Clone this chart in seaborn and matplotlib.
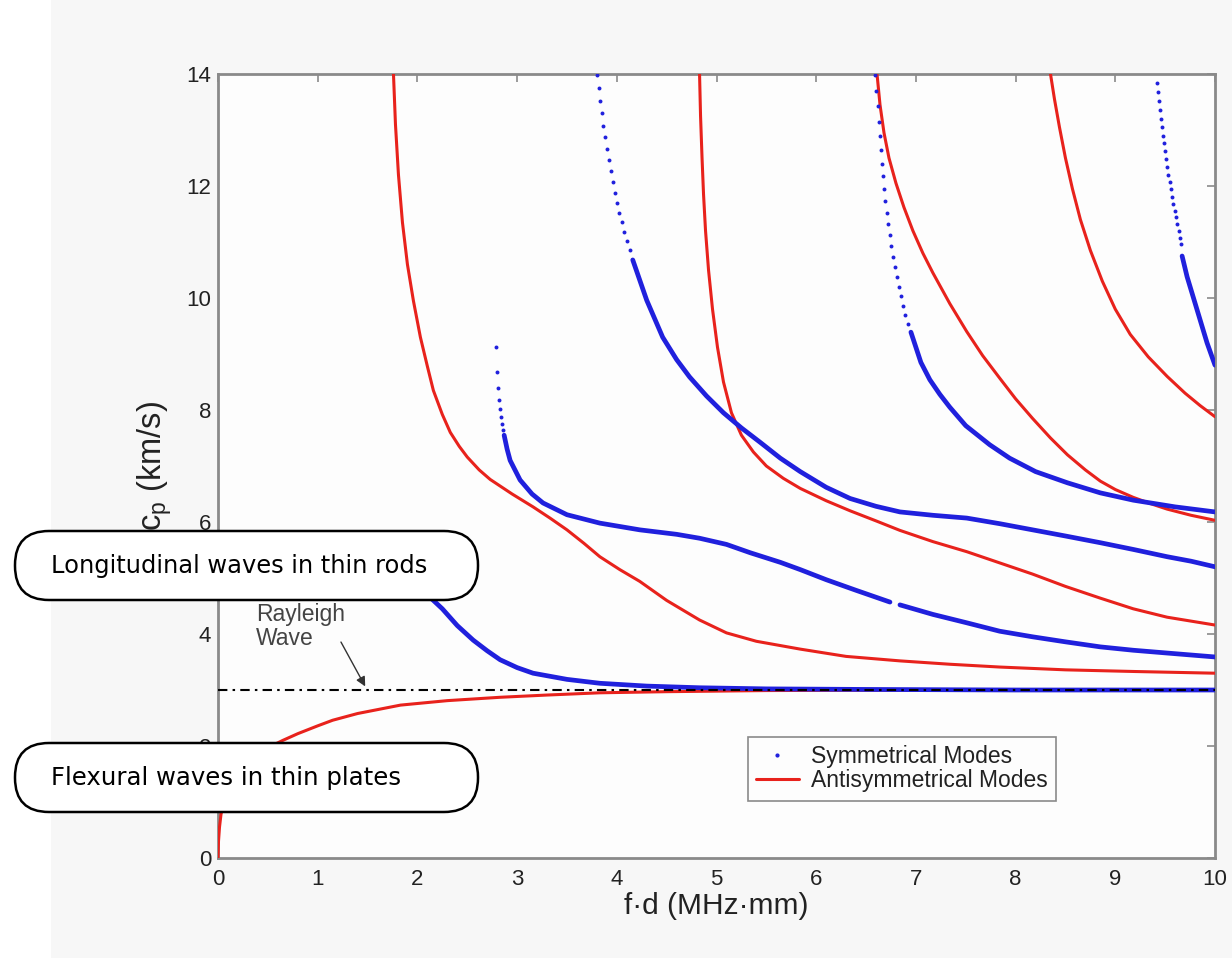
import numpy as np
import pandas as pd
import matplotlib
matplotlib.use("Agg")
import matplotlib.pyplot as plt
import seaborn as sns
from matplotlib.patches import FancyBboxPatch, Rectangle
from matplotlib.lines import Line2D
from matplotlib.transforms import IdentityTransform

# ---------------- data ----------------
# Antisymmetric modes (solid red lines)
a0_x = [0.0, 0.005, 0.015, 0.03, 0.06, 0.1, 0.2, 0.35, 0.5, 0.65, 0.8, 1.0, 1.15, 1.4, 1.83,
        2.3, 2.83, 3.3, 3.83, 4.5, 5.5, 7.0, 10.0]
a0_y = [0.0, 0.3, 0.55, 0.78, 1.0, 1.2, 1.5, 1.78, 1.97, 2.1, 2.22, 2.36, 2.46, 2.58, 2.73,
        2.81, 2.87, 2.91, 2.95, 2.97, 2.99, 3.0, 3.0]

a1_x = [1.76, 1.78, 1.81, 1.85, 1.9, 1.96, 2.03, 2.1, 2.16, 2.25, 2.33, 2.42, 2.5, 2.62, 2.73,
        2.95, 3.16, 3.33, 3.5, 3.67, 3.83, 4.03, 4.23, 4.5, 4.83, 5.1, 5.4, 5.84, 6.3, 6.84,
        7.34, 7.84, 8.5, 9.2, 10.0]
a1_y = [14.0, 13.1, 12.2, 11.35, 10.6, 9.95, 9.3, 8.78, 8.35, 7.92, 7.6, 7.35, 7.16, 6.93, 6.76,
        6.5, 6.27, 6.07, 5.86, 5.62, 5.38, 5.15, 4.94, 4.6, 4.25, 4.02, 3.87, 3.73, 3.6, 3.52,
        3.46, 3.41, 3.36, 3.33, 3.3]

a2_x = [4.83, 4.84, 4.855, 4.87, 4.89, 4.92, 4.96, 5.01, 5.07, 5.15, 5.25, 5.37, 5.5, 5.67,
        5.84, 6.1, 6.34, 6.6, 6.84, 7.17, 7.51, 7.84, 8.17, 8.5, 8.85, 9.18, 9.52, 10.0]
a2_y = [14.0, 13.25, 12.5, 11.85, 11.2, 10.5, 9.8, 9.12, 8.5, 7.95, 7.55, 7.25, 7.0, 6.78,
        6.6, 6.38, 6.2, 6.02, 5.85, 5.65, 5.47, 5.27, 5.07, 4.85, 4.64, 4.45, 4.3, 4.16]

a3_x = [6.61, 6.64, 6.68, 6.73, 6.8, 6.88, 6.97, 7.07, 7.17, 7.34, 7.51, 7.67, 7.84, 8.0, 8.17,
        8.35, 8.52, 8.7, 8.85, 9.0, 9.18, 9.35, 9.52, 9.76, 10.0]
a3_y = [14.0, 13.45, 12.95, 12.5, 12.05, 11.62, 11.2, 10.8, 10.45, 9.9, 9.4, 8.97, 8.57, 8.2,
        7.85, 7.5, 7.2, 6.93, 6.73, 6.58, 6.44, 6.33, 6.23, 6.12, 6.03]

a4_x = [8.35, 8.39, 8.44, 8.5, 8.57, 8.65, 8.75, 8.87, 9.0, 9.15, 9.33, 9.52, 9.7, 9.85, 10.0]
a4_y = [14.0, 13.55, 13.05, 12.5, 11.95, 11.4, 10.85, 10.3, 9.8, 9.35, 8.95, 8.6, 8.3, 8.08, 7.88]

# Symmetric modes (blue dots) - dense parts
s0_x = [0.0, 0.5, 1.0, 1.4, 1.7, 1.9, 2.1, 2.25, 2.4, 2.56, 2.7, 2.83, 3.0, 3.16, 3.5, 3.83,
        4.3, 4.83, 5.5, 6.5, 8.0, 10.0]
s0_y = [5.45, 5.43, 5.38, 5.25, 5.08, 4.92, 4.7, 4.45, 4.15, 3.89, 3.7, 3.54, 3.4, 3.3, 3.19, 3.12,
        3.07, 3.04, 3.02, 3.01, 3.0, 3.0]

s1a_x = [2.87, 2.9, 2.93, 3.03, 3.15, 3.26, 3.5, 3.83, 4.23, 4.6, 4.83, 5.1, 5.34, 5.64, 5.84,
         6.1, 6.4, 6.74]
s1a_y = [7.55, 7.3, 7.1, 6.75, 6.5, 6.34, 6.13, 5.98, 5.86, 5.78, 5.71, 5.6, 5.45, 5.28, 5.15,
         4.97, 4.78, 4.57]
s1b_x = [6.84, 7.17, 7.51, 7.84, 8.17, 8.5, 8.85, 9.18, 9.52, 10.0]
s1b_y = [4.52, 4.35, 4.2, 4.05, 3.95, 3.86, 3.77, 3.71, 3.66, 3.59]

s2_x = [4.16, 4.3, 4.46, 4.6, 4.73, 4.9, 5.07, 5.25, 5.44, 5.64, 5.84, 6.1, 6.34, 6.6, 6.84,
        7.17, 7.51, 7.84, 8.17, 8.5, 8.85, 9.18, 9.52, 9.76, 10.0]
s2_y = [10.68, 9.96, 9.3, 8.9, 8.59, 8.25, 7.95, 7.68, 7.42, 7.14, 6.9, 6.62, 6.42, 6.28, 6.18,
        6.12, 6.07, 5.97, 5.86, 5.75, 5.63, 5.51, 5.38, 5.3, 5.2]

s3_x = [6.95, 7.05, 7.14, 7.24, 7.34, 7.5, 7.74, 7.94, 8.2, 8.52, 8.85, 9.18, 9.6, 10.0]
s3_y = [9.39, 8.85, 8.54, 8.28, 8.05, 7.72, 7.38, 7.14, 6.9, 6.7, 6.52, 6.39, 6.27, 6.18]

s4_x = [9.67, 9.72, 9.82, 9.92, 10.0]
s4_y = [10.75, 10.38, 9.79, 9.2, 8.8]

# Symmetric modes - isolated dots near the cut-offs
s1_dot_x = [2.79, 2.80, 2.81, 2.82, 2.83, 2.84, 2.85, 2.86]
s1_dot_y = [9.12, 8.67, 8.39, 8.18, 8.01, 7.87, 7.75, 7.64]

s2_dot_x = [3.80, 3.82, 3.835, 3.85, 3.865, 3.88, 3.90, 3.92, 3.94, 3.96, 3.98, 4.0, 4.025,
            4.05, 4.07, 4.10, 4.13]
s2_dot_y = [13.98, 13.75, 13.52, 13.3, 13.08, 12.87, 12.66, 12.46, 12.26, 12.07, 11.88, 11.7,
            11.52, 11.35, 11.18, 11.02, 10.86]

s3_dot_x = [6.59, 6.60, 6.615, 6.625, 6.635, 6.645, 6.655, 6.665, 6.68, 6.695, 6.71, 6.725,
            6.74, 6.755, 6.77, 6.79, 6.81, 6.83, 6.85, 6.87, 6.89, 6.92]
s3_dot_y = [13.98, 13.7, 13.42, 13.15, 12.9, 12.65, 12.4, 12.17, 11.95, 11.73, 11.52, 11.32,
            11.12, 10.93, 10.74, 10.56, 10.38, 10.2, 10.03, 9.86, 9.7, 9.54]

s4_dot_x = [9.42, 9.43, 9.44, 9.45, 9.46, 9.47, 9.48, 9.49, 9.50, 9.51, 9.52, 9.53, 9.545, 9.56,
            9.57, 9.58, 9.595, 9.61, 9.62, 9.635, 9.65, 9.66]
s4_dot_y = [13.84, 13.68, 13.52, 13.36, 13.2, 13.05, 12.9, 12.76, 12.62, 12.48, 12.34, 12.2,
            12.07, 11.94, 11.81, 11.68, 11.56, 11.44, 11.32, 11.2, 11.08, 10.97]

rayleigh_x = [0.0, 10.0]
rayleigh_y = [3.0, 3.0]

x_ticks = [0, 1, 2, 3, 4, 5, 6, 7, 8, 9, 10]
y_ticks = [0, 2, 4, 6, 8, 10, 12, 14]

legend_labels = ["Symmetrical Modes", "Antisymmetrical Modes"]
box_labels = ["Longitudinal waves in thin rods", "Flexural waves in thin plates"]

# ---------------- styling ----------------
sns.set_theme(style="white")
plt.rcParams["font.family"] = ["Liberation Sans", "DejaVu Sans"]
plt.rcParams["mathtext.fontset"] = "custom"
plt.rcParams["mathtext.rm"] = "Liberation Sans"
plt.rcParams["mathtext.it"] = "Liberation Sans"
plt.rcParams["lines.solid_joinstyle"] = "round"

BLUE = "#2020dd"
RED = "#e8221c"
GRAY = "#8a8a8a"

W, H = 1232, 958
fig = plt.figure(figsize=(W / 100, H / 100), dpi=100, facecolor="white")
fig.add_artist(Rectangle((51 / W, 0), 1 - 51 / W, 1, transform=fig.transFigure,
                         facecolor="#f7f7f7", edgecolor="none", zorder=-10))

ax = fig.add_axes([218 / W, 100 / H, 997 / W, 784 / H])
ax.set_facecolor("#fdfdfd")

def red_line(x, y):
    sns.lineplot(x=x, y=y, ax=ax, color=RED, lw=2.2, sort=False, estimator=None,
                 legend=False, zorder=3)

def blue_line(x, y):
    sns.lineplot(x=x, y=y, ax=ax, color=BLUE, lw=3.4, sort=False, estimator=None,
                 legend=False, zorder=4)

def blue_dots(x, y):
    sns.scatterplot(x=x, y=y, ax=ax, color=BLUE, s=8, linewidth=0, legend=False, zorder=4)

for xs, ys in [(a0_x, a0_y), (a1_x, a1_y), (a2_x, a2_y), (a3_x, a3_y), (a4_x, a4_y)]:
    red_line(xs, ys)
for xs, ys in [(s0_x, s0_y), (s1a_x, s1a_y), (s1b_x, s1b_y), (s2_x, s2_y), (s3_x, s3_y),
               (s4_x, s4_y)]:
    blue_line(xs, ys)
for xs, ys in [(s1_dot_x, s1_dot_y), (s2_dot_x, s2_dot_y), (s3_dot_x, s3_dot_y),
               (s4_dot_x, s4_dot_y)]:
    blue_dots(xs, ys)

sns.lineplot(x=rayleigh_x, y=rayleigh_y, ax=ax, color="black", lw=1.5,
             linestyle=(0, (4.5, 2.5, 1.2, 2.5)), legend=False, zorder=5)

ax.text(0.38, 4.14, "Rayleigh\nWave", ha="left", va="center", fontsize=16.5,
        color="#444444", linespacing=1.05, zorder=6)
ax.annotate("", xy=(1.49, 3.02), xytext=(1.22, 3.9),
            arrowprops=dict(arrowstyle="-|>", color="#333333", lw=1.0, mutation_scale=14),
            zorder=6)

ax.set_xlim(0, 10)
ax.set_ylim(0, 14)
ax.set_xticks(x_ticks)
ax.set_yticks(y_ticks)
ax.set_xticklabels([str(v) for v in x_ticks])
ax.set_yticklabels([str(v) for v in y_ticks])
for sp in ax.spines.values():
    sp.set_color(GRAY)
    sp.set_linewidth(2)
ax.tick_params(axis="both", direction="in", length=6, width=1.2, color=GRAY,
               top=True, right=True, labelsize=16, labelcolor="#222222")
ax.tick_params(axis="x", pad=8)
ax.tick_params(axis="y", pad=5)
ax.set_xlabel("f·d (MHz·mm)", fontsize=21.5, color="#222222", labelpad=1)
ax.set_ylabel(r"c$_{\mathrm{p}}$ (km/s)", fontsize=23.5, color="#222222", labelpad=9)

handles = [Line2D([], [], ls="none", marker=".", color=BLUE, markersize=4),
           Line2D([], [], color=RED, lw=2.2)]
leg = ax.legend(handles, legend_labels, loc="upper left", bbox_to_anchor=(0.5316, 0.1543),
                borderaxespad=0, frameon=True, fancybox=False, fontsize=16.5,
                handlelength=1.85, handletextpad=0.55, labelspacing=0.05, borderpad=0.36,
                framealpha=1)
leg.get_frame().set_edgecolor(GRAY)
leg.get_frame().set_linewidth(1.2)
leg.get_frame().set_facecolor("#fdfdfd")
for t in leg.get_texts():
    t.set_color("#222222")

# rounded annotation boxes (pixel coordinates, origin bottom-left)
renderer = fig.canvas.get_renderer()
boxes = [(15, H - 600, 463, 69, H - 566, 376), (15, H - 812, 463, 69, H - 778, 349)]
for (bx, by, bw, bh, ty, tw), label in zip(boxes, box_labels):
    fig.add_artist(FancyBboxPatch((bx, by), bw, bh, boxstyle="round,pad=0,rounding_size=34",
                                  transform=IdentityTransform(), facecolor="white",
                                  edgecolor="black", lw=1.8, zorder=20))
    t = fig.text(51, ty, label, transform=IdentityTransform(), ha="left", va="center",
                 fontsize=20, color="black", family="DejaVu Sans", zorder=21)
    w = t.get_window_extent(renderer).width
    t.set_fontsize(20 * tw / w)

fig.savefig("out.png", dpi=100, facecolor=fig.get_facecolor())
